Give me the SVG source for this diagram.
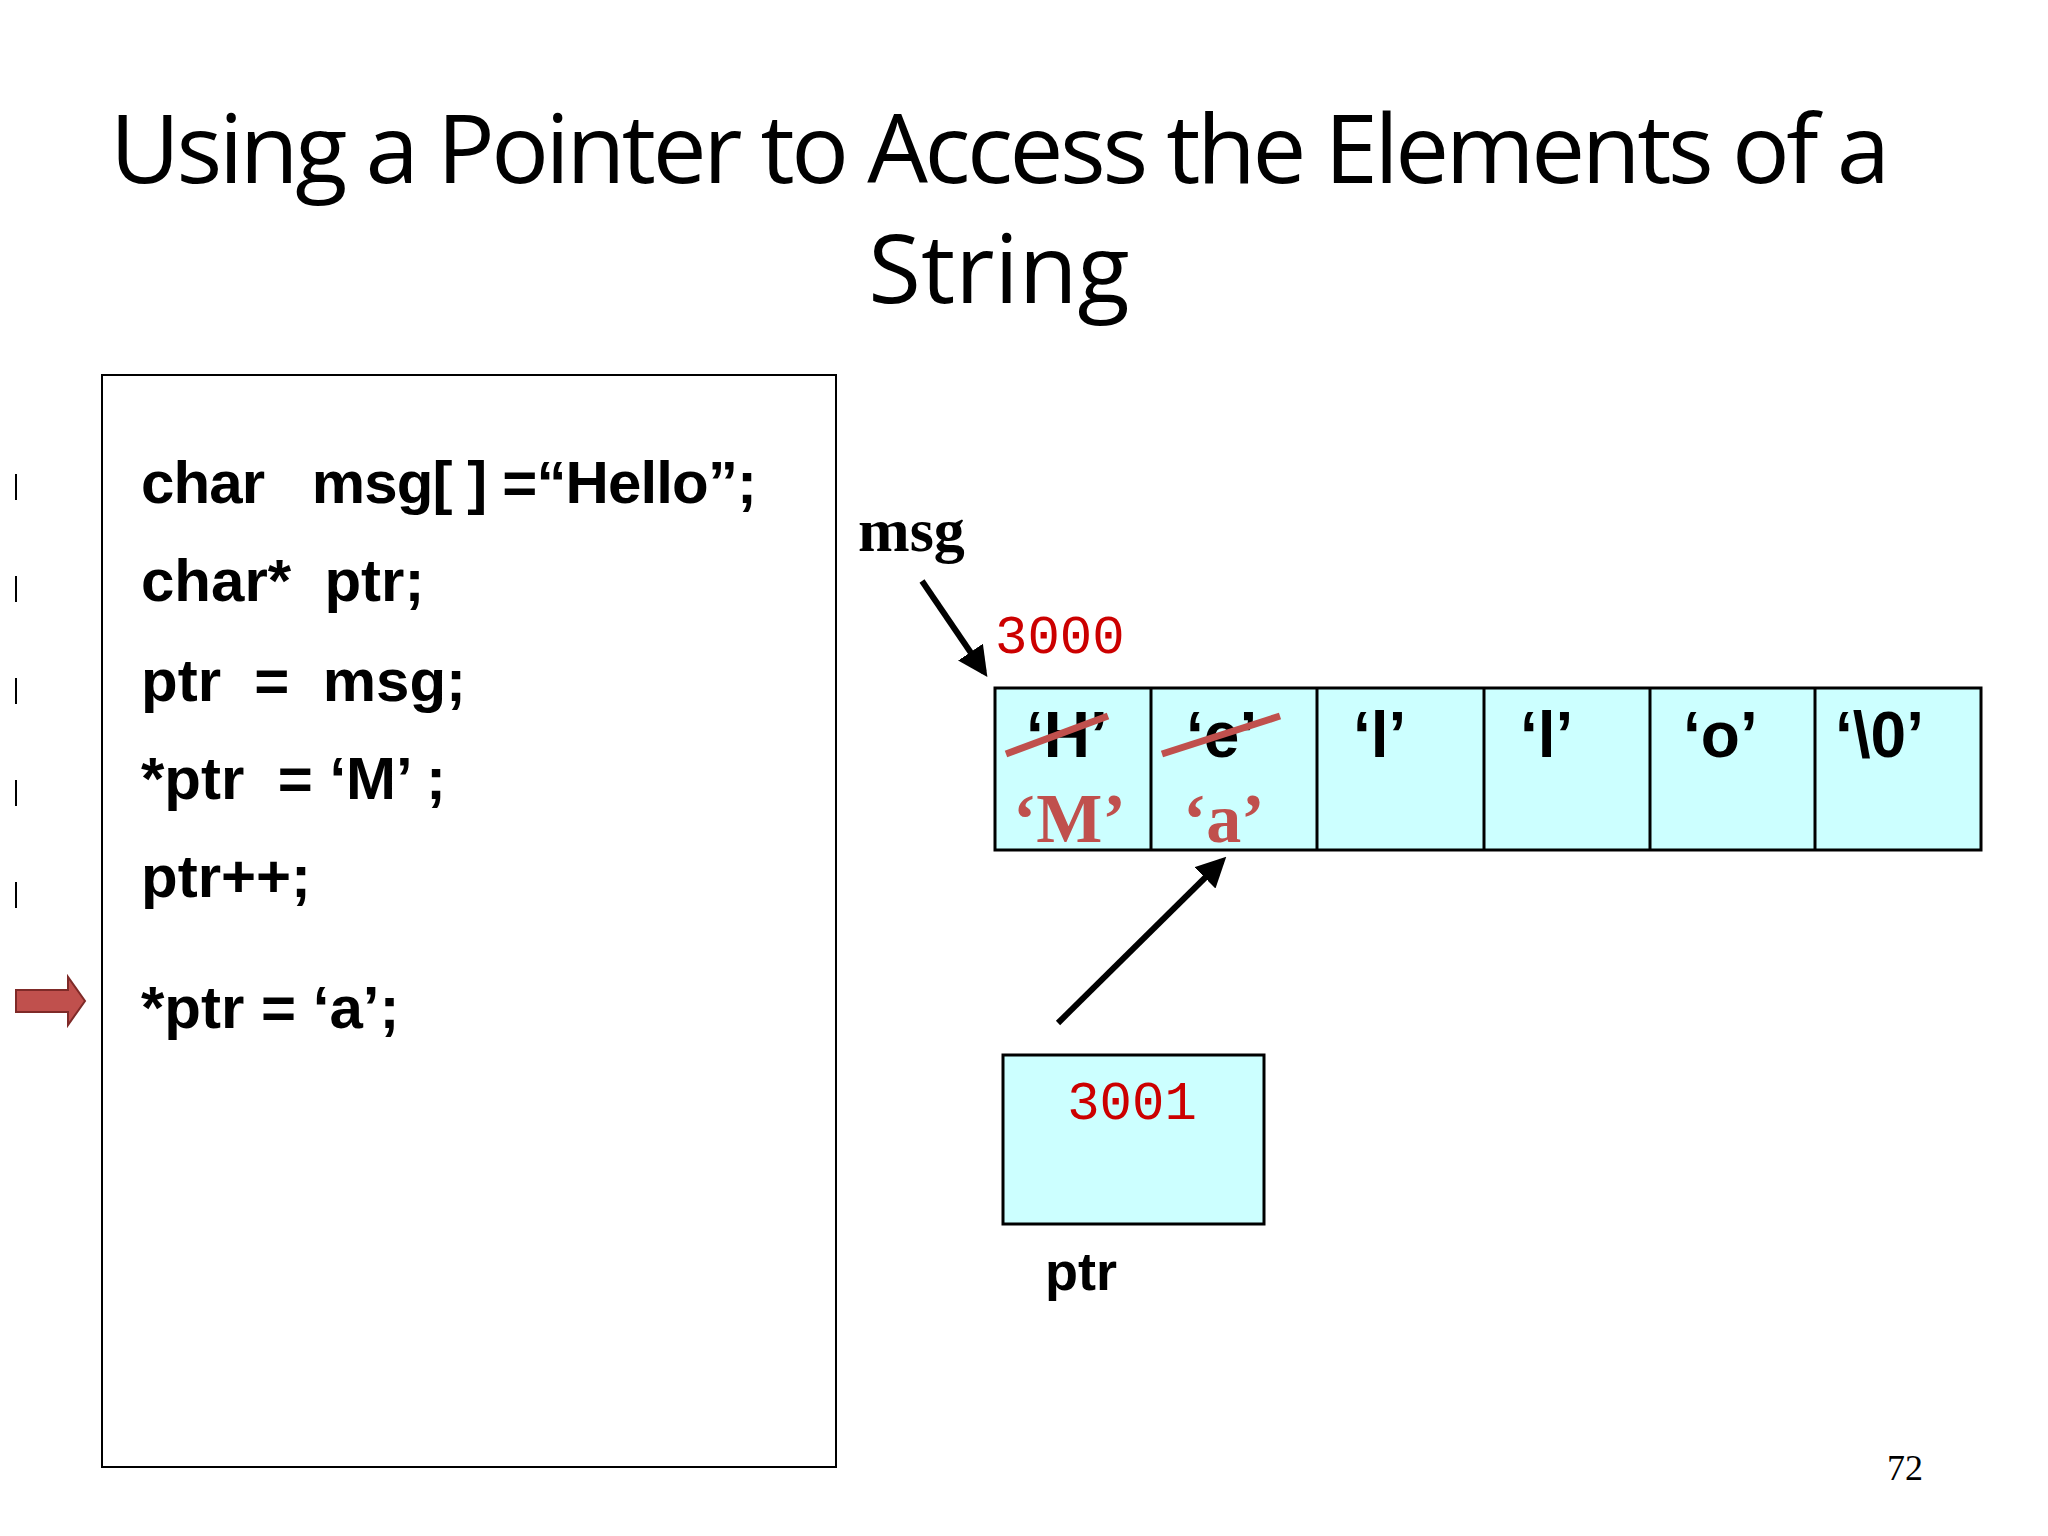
<svg xmlns="http://www.w3.org/2000/svg" width="2048" height="1536" viewBox="0 0 2048 1536">
<style>
.title{font-family:"Open Sans","Liberation Sans",sans-serif;font-size:96px;fill:#000}
.code{font-family:"Liberation Sans",sans-serif;font-weight:bold;font-size:60px;fill:#000}
.ch{font-family:"Liberation Sans",Arial,sans-serif;font-weight:bold;font-size:64px;fill:#000}
.new{font-family:"Liberation Serif",serif;font-weight:bold;font-size:70px;fill:#c0504d}
.addr{font-family:"Liberation Mono",monospace;font-size:54px;fill:#cc0000}
.cell{fill:#ccffff;stroke:#000;stroke-width:3}
.tick{stroke:#000;stroke-width:2}
.conn{stroke:#000;stroke-width:6;fill:none;marker-end:url(#ah)}
.strike{stroke:#c0504d;stroke-width:7}
</style>
<defs>
<marker id="ah" markerWidth="5" markerHeight="5" refX="4" refY="2.5" orient="auto"><path d="M0,0 L5,2.5 L0,5 z" fill="#000"/></marker>
</defs>
<rect width="2048" height="1536" fill="#fff"/>
<text class="title" x="110" y="183" textLength="1780">Using a Pointer to Access the Elements of a</text>
<text class="title" x="999" y="303" text-anchor="middle">String</text>
<g id="code">
<rect x="102" y="375" width="734" height="1092" fill="#fff" stroke="#000" stroke-width="2"/>
<text class="code" x="141" y="503" textLength="616" xml:space="preserve">char   msg[ ] =“Hello”;</text>
<text class="code" x="141" y="601" xml:space="preserve">char*  ptr;</text>
<text class="code" x="141" y="701" xml:space="preserve">ptr  =  msg;</text>
<text class="code" x="141" y="799" xml:space="preserve">*ptr  = ‘M’ ;</text>
<text class="code" x="141" y="897">ptr++;</text>
<text class="code" x="141" y="1028">*ptr = ‘a’;</text>
</g>
<g id="ticks">
<line class="tick" x1="16" y1="474" x2="16" y2="500"/>
<line class="tick" x1="16" y1="576" x2="16" y2="602"/>
<line class="tick" x1="16" y1="678" x2="16" y2="704"/>
<line class="tick" x1="16" y1="780" x2="16" y2="806"/>
<line class="tick" x1="16" y1="882" x2="16" y2="908"/>
</g>
<g id="pc-arrow">
<path d="M16,990 L68,990 L68,977 L85,1001 L68,1025 L68,1012 L16,1012 z" fill="#c0504d" stroke="#7f2a28" stroke-width="2"/>
</g>
<g id="msg-label">
<text x="858" y="551" font-family="Liberation Serif,serif" font-weight="bold" font-size="62">msg</text>
<text class="addr" x="995" y="653">3000</text>
</g>
<g id="array">
<rect class="cell" x="995" y="688" width="986" height="162"/>
<line stroke="#000" stroke-width="3" x1="1151" y1="688" x2="1151" y2="850"/>
<line stroke="#000" stroke-width="3" x1="1317" y1="688" x2="1317" y2="850"/>
<line stroke="#000" stroke-width="3" x1="1484" y1="688" x2="1484" y2="850"/>
<line stroke="#000" stroke-width="3" x1="1650" y1="688" x2="1650" y2="850"/>
<line stroke="#000" stroke-width="3" x1="1815" y1="688" x2="1815" y2="850"/>
<text class="ch" x="1026" y="757">‘H’</text>
<text class="ch" x="1186" y="757">‘e’</text>
<text class="ch" x="1353" y="757">‘l’</text>
<text class="ch" x="1520" y="757">‘l’</text>
<text class="ch" x="1683" y="757">‘o’</text>
<text class="ch" x="1835" y="757">‘\0’</text>
<line class="strike" x1="1006" y1="754" x2="1108" y2="716"/>
<line class="strike" x1="1162" y1="754" x2="1280" y2="716"/>
<text class="new" x="1013" y="842">‘M’</text>
<text class="new" x="1183" y="842">‘a’</text>
</g>
<g id="ptr">
<rect class="cell" x="1003" y="1055" width="261" height="169"/>
<text class="addr" x="1132" y="1119" text-anchor="middle">3001</text>
<text x="1045" y="1290" font-family="Liberation Sans,sans-serif" font-weight="bold" font-size="54">ptr</text>
</g>
<g id="connectors">
<line class="conn" x1="922" y1="581" x2="984" y2="672"/>
<line class="conn" x1="1058" y1="1023" x2="1222" y2="861"/>
</g>
<text x="1887" y="1480" font-family="Liberation Serif,serif" font-size="36">72</text>
</svg>
